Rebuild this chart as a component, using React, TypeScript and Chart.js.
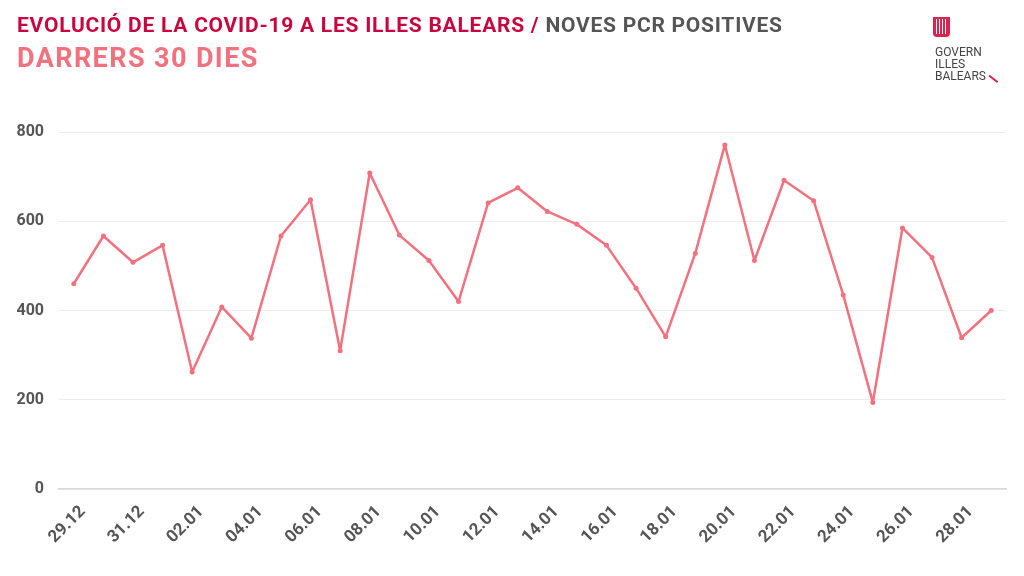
import React, { useEffect, useRef } from "react";
import { Chart, registerables } from "chart.js";

Chart.register(...registerables);

const labels: string[] = [
  "29.12", "30.12", "31.12", "01.01", "02.01", "03.01", "04.01", "05.01",
  "06.01", "07.01", "08.01", "09.01", "10.01", "11.01", "12.01", "13.01",
  "14.01", "15.01", "16.01", "17.01", "18.01", "19.01", "20.01", "21.01",
  "22.01", "23.01", "24.01", "25.01", "26.01", "27.01", "28.01", "29.01",
];

const pcrPositives: number[] = [
  460, 567, 508, 546, 262, 408, 338, 567,
  648, 310, 708, 569, 512, 420, 641, 675,
  622, 593, 546, 450, 341, 528, 771, 512,
  692, 646, 435, 194, 585, 519, 339, 400,
];

const yTicks: number[] = [0, 200, 400, 600, 800];

const FONT = "Roboto, 'DejaVu Sans', sans-serif";

export default function App() {
  const ref = useRef<HTMLCanvasElement | null>(null);

  useEffect(() => {
    document.body.style.margin = "0";
    if (!ref.current) return;
    const chart = new Chart(ref.current, {
      type: "line",
      data: {
        labels,
        datasets: [
          {
            data: pcrPositives,
            borderColor: "#F2717F",
            backgroundColor: "#F2717F",
            borderWidth: 2.5,
            borderJoinStyle: "round",
            pointRadius: 2.5,
            pointBackgroundColor: "#F2717F",
            pointBorderWidth: 0,
            tension: 0,
            fill: false,
          },
        ],
      },
      options: {
        animation: false,
        responsive: false,
        maintainAspectRatio: false,
        layout: { padding: { top: 132, right: 18, left: 0, bottom: 0 } },
        plugins: { legend: { display: false }, tooltip: { enabled: false }, title: { display: false } },
        scales: {
          x: {
            offset: true,
            grid: { display: false, drawTicks: false },
            border: { display: true, color: "#d9d9d9", width: 1.5 },
            afterFit: (s: any) => { s.height = 87; },
            ticks: {
              autoSkip: false,
              minRotation: 45,
              maxRotation: 45,
              padding: 13,
              labelOffset: 9,
              color: "#555555",
              font: { family: FONT, size: 17, weight: "bold" },
              callback: (_v: any, i: number) => (i % 2 === 0 && i < labels.length - 1 ? labels[i] : ""),
            },
          },
          y: {
            min: yTicks[0],
            max: yTicks[yTicks.length - 1],
            afterFit: (s: any) => { s.width = 59; },
            afterBuildTicks: (s: any) => { s.ticks = yTicks.map((v) => ({ value: v })); },
            grid: { color: "#ececec", lineWidth: 1, drawTicks: false },
            border: { display: false },
            ticks: {
              padding: 15,
              color: "#555555",
              font: { family: FONT, size: 16, weight: "bold" },
            },
          },
        },
      },
    });
    return () => chart.destroy();
  }, []);

  const stripe = (left: number) => (
    <div style={{ position: "absolute", left, top: 2, width: 1.4, height: 15, background: "#fff" }} />
  );

  return (
    <div style={{ position: "fixed", left: 0, top: 0, width: 1024, height: 576, background: "#fff", overflow: "hidden", fontFamily: FONT }}>
      <canvas ref={ref} width={1024} height={576} style={{ position: "absolute", left: 0, top: 0, width: 1024, height: 576 }} />
      <div style={{ position: "absolute", left: 17, top: 11, fontSize: 21, fontWeight: 700, whiteSpace: "nowrap", lineHeight: "28px", letterSpacing: 0.75 }}>
        <span style={{ color: "#C8053F" }}>EVOLUCIÓ DE LA COVID-19 A LES ILLES BALEARS / </span>
        <span style={{ color: "#555555" }}>NOVES PCR POSITIVES</span>
      </div>
      <div style={{ position: "absolute", left: 17, top: 40, fontSize: 27, fontWeight: 700, whiteSpace: "nowrap", lineHeight: "36px", color: "#F2717F", letterSpacing: 1.4 }}>
        DARRERS 30 DIES
      </div>
      <div style={{ position: "absolute", left: 933, top: 17, width: 17, height: 20, background: "#D8244F", borderRadius: "0 0 4px 4px" }}>
        {stripe(3)}
        {stripe(6)}
        {stripe(9)}
        {stripe(12)}
      </div>
      <div style={{ position: "absolute", left: 935, top: 46, fontSize: 12, lineHeight: "12px", color: "#444444", fontWeight: 400 }}>
        <div>GOVERN</div>
        <div>ILLES</div>
        <div>BALEARS</div>
      </div>
      <div style={{ position: "absolute", left: 988, top: 78, width: 11, height: 1.5, background: "#D8244F", transform: "rotate(38deg)" }} />
    </div>
  );
}
